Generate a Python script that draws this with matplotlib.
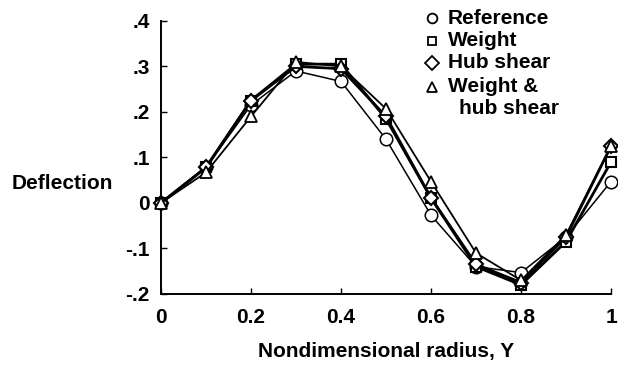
import numpy as np
import matplotlib.pyplot as plt
from matplotlib.lines import Line2D

plt.rcParams['font.family'] = ['Liberation Sans', 'DejaVu Sans']
plt.rcParams['font.weight'] = 'bold'

radius = [0, 0.1, 0.2, 0.3, 0.4, 0.5, 0.6, 0.7, 0.8, 0.9, 1.0]
reference = [0, 0.078, 0.215, 0.29, 0.267, 0.14, -0.027, -0.14, -0.153, -0.075, 0.047]
weight = [0, 0.078, 0.225, 0.305, 0.305, 0.185, 0.011, -0.14, -0.18, -0.085, 0.09]
hub_shear = [0, 0.078, 0.225, 0.3, 0.295, 0.19, 0.011, -0.135, -0.175, -0.075, 0.125]
weight_hub = [0, 0.067, 0.19, 0.31, 0.3, 0.207, 0.047, -0.11, -0.17, -0.07, 0.125]

xticks = [0, 0.2, 0.4, 0.6, 0.8, 1.0]
xticklabels = ["0", "0.2", "0.4", "0.6", "0.8", "1"]
yticks = [-0.2, -0.1, 0, 0.1, 0.2, 0.3, 0.4]
yticklabels = ["-.2", "-.1", "0", ".1", ".2", ".3", ".4"]

legend_labels = ["Reference", "Weight", "Hub shear", "Weight &\nhub shear"]
legend_markers = ["o", "s", "D", "^"]

fs = 15

fig = plt.figure(figsize=(6.18, 3.67), dpi=100)
ax = fig.add_axes([0.2605, 0.199, 0.7282, 0.744])

ms = 9
ax.plot(radius, reference, color="black", lw=1.1, marker="o", ms=ms,
        mfc="white", mec="black", mew=1.1, clip_on=False, zorder=3)
ax.plot(radius, weight, color="black", lw=2.0, marker="s", ms=ms - 2,
        mfc="white", mec="black", mew=1.5, clip_on=False, zorder=4)
ax.plot(radius, hub_shear, color="black", lw=2.0, marker="D", ms=ms - 2,
        mfc="white", mec="black", mew=1.5, clip_on=False, zorder=5)
ax.plot(radius, weight_hub, color="black", lw=1.3, marker="^", ms=ms,
        mfc="white", mec="black", mew=1.3, clip_on=False, zorder=6)

ax.set_xlim(0, 1)
ax.set_ylim(-0.2, 0.4)
ax.spines["top"].set_visible(False)
ax.spines["right"].set_visible(False)
ax.spines["left"].set_linewidth(1.4)
ax.spines["bottom"].set_linewidth(1.4)
ax.set_xticks(xticks)
ax.set_xticklabels(xticklabels)
ax.set_yticks(yticks)
ax.set_yticklabels(yticklabels)
ax.tick_params(direction="in", length=4, width=1, labelsize=fs)
ax.tick_params(axis="x", pad=10)
ax.tick_params(axis="y", pad=8)

ax.set_xlabel("Nondimensional radius, Y", fontsize=fs, fontweight="bold", labelpad=11)
fig.text(0.019, 0.501, "Deflection", fontsize=fs, fontweight="bold", va="center", ha="left")

# legend drawn by hand so the triangle sits on the first line of its label
row_y = [18, 41, 63, 87]
for lab, mk, yy in zip(legend_labels, legend_markers, row_y):
    size = 6 if mk == "s" else 7
    fig.add_artist(Line2D([432 / 618], [1 - yy / 367], transform=fig.transFigure, ls="none",
                          marker=mk, ms=size, mfc="white", mec="black", mew=1.3))
    for k, part in enumerate(lab.split("\n")):
        fig.text((448 + 11 * k) / 618, 1 - (yy + 21 * k) / 367, part, fontsize=fs,
                 fontweight="bold", va="center", ha="left")

fig.savefig("out.png", dpi=100)
